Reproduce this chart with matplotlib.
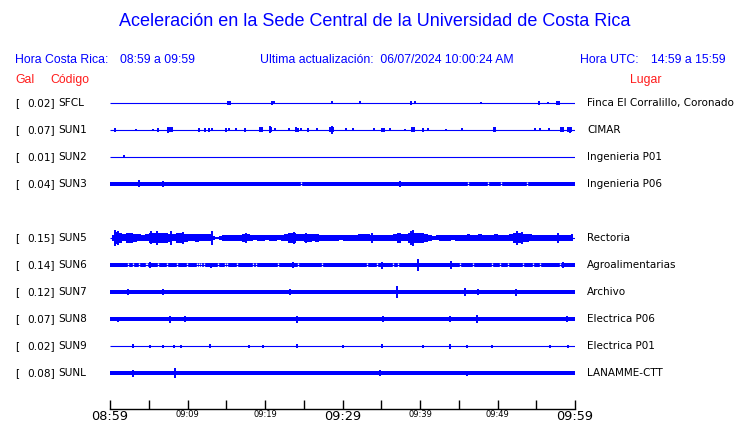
import numpy as np
import matplotlib.pyplot as plt

# Estaciones (SUN4 no aparece, queda una fila vacia)
codigos = ["SFCL", "SUN1", "SUN2", "SUN3", None, "SUN5", "SUN6", "SUN7", "SUN8", "SUN9", "SUNL"]
gal = [0.02, 0.07, 0.01, 0.04, None, 0.15, 0.14, 0.12, 0.07, 0.02, 0.08]
lugares = ["Finca El Corralillo, Coronado", "CIMAR", "Ingenieria P01", "Ingenieria P06", None,
           "Rectoria", "Agroalimentarias", "Archivo", "Electrica P06", "Electrica P01", "LANAMME-CTT"]

# Amplitud de fondo de cada traza (unidades relativas, aprox. pixeles)
fondo = [0.5, 0.5, 0.5, 2.0, None, 0.5, 1.7, 2.0, 2.0, 0.5, 1.8]

# Picos: (minuto desde 08:59, amplitud)
picos = {
    "SFCL": [(15.2, 2), (15.5, 2), (20.9, 2), (21.1, 1.5), (28.7, 1.5), (32.3, 1.5), (38.8, 2),
             (39.4, 1.5), (47.9, 1), (55.4, 2), (56.5, 1), (57.7, 2), (57.9, 2)],
    "SUN1": [(0.6, 2), (3.4, 1), (5.6, 1), (6.2, 2), (7.5, 3), (7.8, 2.5), (8.0, 2.5), (11.5, 2),
             (12.3, 2), (12.8, 2), (13.2, 1.5), (15.0, 2), (15.4, 1.5), (16.3, 1.5), (17.4, 2),
             (19.4, 2.5), (19.6, 2.5), (20.6, 3.5), (20.8, 2.5), (21.3, 1.5), (23.1, 1.5), (24.0, 2.5),
             (24.2, 2), (24.7, 1.5), (25.6, 2), (26.7, 1.5), (28.4, 2.5), (28.6, 4), (28.8, 2.5),
             (30.5, 1.5), (31.4, 1.5), (34.1, 1.5), (35.1, 2), (35.4, 2), (36.1, 1.5), (38.1, 1),
             (39.0, 2.5), (39.2, 2.5), (40.4, 2), (41.0, 1.5), (43.4, 1), (45.4, 1.5), (49.5, 2.5),
             (49.7, 2.5), (54.9, 1.5), (55.5, 1.5), (56.6, 1.5), (58.2, 2.5), (58.4, 2.5),
             (59.1, 2.5), (59.3, 3), (59.5, 2.5)],
    "SUN2": [(1.8, 1.5)],
    "SUN3": [(3.7, 3.5), (6.9, 3), (37.4, 3)],
    "SUN5": [(0.7, 8), (1.0, 7), (5.3, 6.5), (6.0, 7), (7.9, 7), (9.4, 6), (13.2, 7.5), (17.5, 5),
             (23.8, 6), (25.3, 5), (33.8, 5), (37.3, 5.5), (38.9, 7), (39.1, 8), (40.3, 5.5),
             (52.5, 7), (53.2, 6), (57.8, 5)],
    "SUN6": [(5.2, 3), (13.0, 2.5), (23.6, 3), (35.1, 3.5), (39.7, 6), (44.0, 4), (58.5, 3)],
    "SUN7": [(2.3, 3), (6.9, 3), (23.2, 3), (37.0, 6), (45.8, 4), (47.5, 3), (52.4, 3.5)],
    "SUN8": [(1.0, 2.5), (7.7, 3.5), (9.7, 3), (24.1, 3.5), (35.2, 3), (43.9, 3), (47.3, 4), (59.0, 3)],
    "SUN9": [(3.0, 2), (5.2, 1.5), (6.9, 1.5), (8.2, 1.5), (9.2, 1.5), (12.9, 2), (17.9, 1.5),
             (19.8, 1.5), (24.1, 2), (30.1, 1.5), (35.1, 2), (40.4, 1.5), (43.9, 2.5), (46.0, 1.5),
             (49.3, 1.5), (56.8, 1.5), (59.1, 1.5)],
    "SUNL": [(3.0, 3.5), (8.4, 5), (34.8, 3), (46.0, 2.5)],
}

# Huecos finos (minuto) donde la banda de fondo se adelgaza
huecos = {
    "SUN3": [24.7, 46.2, 48.8, 50.5, 53.8],
    "SUN6": [2.3, 3.0, 3.7, 4.6, 4.8, 6.2, 7.3, 8.6, 9.9, 11.2, 11.5, 11.8, 12.1, 13.9, 14.9, 15.1,
             16.4, 18.4, 18.8, 21.7, 24.3, 27.4, 33.2, 34.4, 36.5, 37.2, 45.2, 46.9, 49.3, 50.3,
             51.4, 53.3, 54.6, 55.5, 58.1],
}

# Envolvente cada medio minuto de SUN5 (Rectoria)
env_sun5 = [3, 6, 5, 3.5, 4.5, 4.5, 4, 3.5, 3, 3.5,
            5, 5.5, 5, 5.5, 5, 4, 3.5, 4.5, 5, 4,
            3.5, 3.5, 4, 3.5, 3.5, 3.5, 2, 1.2, 2, 3,
            3, 3, 3, 3, 4, 3.5, 3, 2.5, 3, 3,
            2.5, 3, 3, 2.5, 3, 3.5, 4.5, 4.5, 3.5, 3.5,
            4, 4, 3.5, 4, 3, 3, 3, 3, 3, 2.5,
            3, 3, 3, 3, 3.5, 3.5, 3.5, 3, 3, 3,
            3, 3, 3, 3.5, 4.5, 3.5, 3.5, 5, 5.5, 4.5,
            4.5, 4, 3, 2, 2.5, 3, 3, 3, 2.5, 3,
            3, 3, 3.5, 3, 3, 3.5, 3, 3, 3, 3.5,
            3, 3, 3, 3.5, 4.5, 4.5, 4, 4, 3.5, 3,
            3, 3, 3, 3, 3, 3, 3, 3, 3, 3.5]

ticks_min = np.arange(0, 61, 5)
etiquetas = {0: "08:59", 10: "09:09", 20: "09:19", 30: "09:29", 40: "09:39", 50: "09:49", 60: "09:59"}

W, H = 740, 423
azul = "#0000ff"
rojo = "#ff1a1a"
escala = 1 / 27.0  # amplitud relativa -> fraccion de fila

fig = plt.figure(figsize=(W / 100, H / 100), dpi=100)

# ejes de trazas
ax = fig.add_axes([110 / W, 1 - 386.5 / H, 465 / W, 297 / H])
ax.set_xlim(0, 60)
ax.set_ylim(len(codigos) - 0.5, -0.5)
ax.axis("off")

for i, cod in enumerate(codigos):
    if cod is None:
        continue
    if fondo[i] > 0.6:
        ax.fill_between([0, 60], i - fondo[i] * escala, i + fondo[i] * escala,
                        color=azul, lw=0)
    for t in huecos.get(cod, []):
        ax.vlines(t, i - fondo[i] * escala, i + fondo[i] * escala, color="white", lw=1.0)
    ax.plot([0, 60], [i, i], color=azul, lw=0.8, solid_capstyle="butt")
    if cod == "SUN5":
        m = np.arange(len(env_sun5)) * 0.5 + 0.25
        e = np.array(env_sun5) * escala
        ax.fill_between(m, i - e, i + e, step="mid", color=azul, lw=0)
    for t, a in picos.get(cod, []):
        ax.vlines(t, i - a * escala, i + a * escala, color=azul, lw=1.4)

# eje de tiempo
axt = fig.add_axes([110 / W, 1 - 409 / H, 465 / W, 10 / H])
axt.set_xlim(0, 60)
axt.set_yticks([])
for s in ["top", "left", "right"]:
    axt.spines[s].set_visible(False)
axt.spines["bottom"].set_linewidth(1)
axt.patch.set_alpha(0)
axt.set_xticks(ticks_min)
axt.set_xticklabels([etiquetas.get(t, "") for t in ticks_min])
axt.tick_params(axis="x", direction="in", length=6.5, width=1, pad=0.5)
for t, lab in zip(ticks_min, axt.get_xticklabels()):
    lab.set_fontsize(9.3 if t % 30 == 0 else 6)
    lab.set_family("DejaVu Sans")

# textos
sans = "Liberation Sans"
fs = 8.8
fig.text(375 / W, 1 - 22 / H, "Aceleración en la Sede Central de la Universidad de Costa Rica",
         ha="center", va="center", color=azul, fontsize=13, family=sans)
y1 = 1 - 60 / H
fig.text(15 / W, y1, "Hora Costa Rica:", color=azul, fontsize=fs, family=sans, va="center")
fig.text(120 / W, y1, "08:59 a 09:59", color=azul, fontsize=fs, family=sans, va="center")
fig.text(260 / W, y1, "Ultima actualización:  06/07/2024 10:00:24 AM", color=azul,
         fontsize=fs, family=sans, va="center")
fig.text(580 / W, y1, "Hora UTC:", color=azul, fontsize=fs, family=sans, va="center")
fig.text(651 / W, y1, "14:59 a 15:59", color=azul, fontsize=fs, family=sans, va="center")
y2 = 1 - 80 / H
fig.text(15 / W, y2, "Gal", color=rojo, fontsize=fs, family=sans, va="center")
fig.text(50 / W, y2, "Código", color=rojo, fontsize=fs, family=sans, va="center")
fig.text(630 / W, y2, "Lugar", color=rojo, fontsize=fs, family=sans, va="center")

px = 60 / 465  # minutos por pixel en el eje de trazas
for i, cod in enumerate(codigos):
    if cod is None:
        continue
    ax.text((15 - 110) * px, i, "[", fontsize=7.6, va="center", ha="left", clip_on=False)
    ax.text((54.5 - 110) * px, i, f"{gal[i]:.2f}]", fontsize=7.6, va="center", ha="right",
            clip_on=False)
    ax.text((58 - 110) * px, i, cod, fontsize=7.6, va="center", ha="left", clip_on=False)
    ax.text(60 + 12 * px, i, lugares[i], fontsize=7.5, va="center", ha="left", clip_on=False)

fig.savefig("out.png", dpi=100)
